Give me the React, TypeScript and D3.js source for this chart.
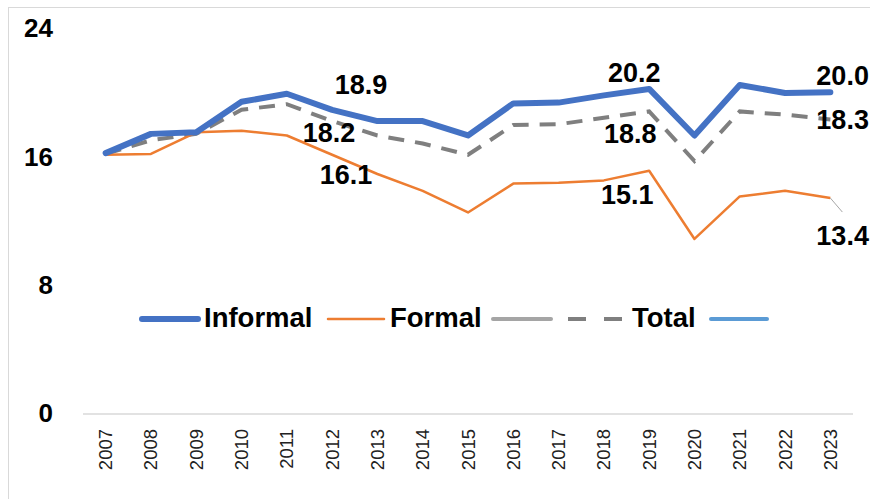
import React, { useEffect, useRef } from "react";
import * as d3 from "d3";

const years = ["2007", "2008", "2009", "2010", "2011", "2012", "2013", "2014", "2015",
  "2016", "2017", "2018", "2019", "2020", "2021", "2022", "2023"];
const informal = [16.2, 17.4, 17.5, 19.4, 19.9, 18.9, 18.2, 18.2, 17.3, 19.3, 19.35, 19.8, 20.2, 17.3, 20.45, 19.95, 20.0];
const formal = [16.1, 16.15, 17.5, 17.6, 17.3, 16.1, 14.9, 13.85, 12.5, 14.3, 14.35, 14.5, 15.1, 10.85, 13.5, 13.85, 13.4];
const total = [16.15, 17.0, 17.4, 18.9, 19.25, 18.2, 17.3, 16.8, 16.1, 17.95, 18.0, 18.4, 18.8, 15.7, 18.8, 18.6, 18.3];
const yTicks = [0, 8, 16, 24];
const labelYears = ["2012", "2019", "2023"];

const FONT = "'Liberation Sans', Arial, sans-serif";

export default function App() {
  const ref = useRef<SVGSVGElement>(null);

  useEffect(() => {
    const width = 870;
    const height = 499;
    const svg = d3.select(ref.current);
    svg.selectAll("*").remove();

    const x = d3.scaleBand().domain(years).range([83, 853]);
    const y = d3.scaleLinear().domain([0, 24]).range([413, 28]);
    const cx = (yr: string) => (x(yr) as number) + x.bandwidth() / 2;

    svg.append("rect").attr("width", width).attr("height", height).attr("fill", "#fff");
    svg.append("rect").attr("x", 8.5).attr("y", 7.5).attr("width", width).attr("height", height)
      .attr("fill", "none").attr("stroke", "#d9d9d9").attr("stroke-width", 1);

    // y tick labels
    svg.append("g").selectAll("text").data(yTicks).join("text")
      .attr("x", 53).attr("y", d => y(d)).attr("dy", "0.36em").attr("text-anchor", "end")
      .style("font-family", FONT).style("font-weight", "bold").style("font-size", "26px").attr("fill", "#000")
      .text(d => d);

    // x axis line + labels
    svg.append("line").attr("x1", 83).attr("x2", 853).attr("y1", y(0) + 1).attr("y2", y(0) + 1)
      .attr("stroke", "#d9d9d9").attr("stroke-width", 1.5);
    svg.append("g").selectAll("text").data(years).join("text")
      .attr("transform", d => `translate(${cx(d) + 6.5},429) rotate(-90)`)
      .attr("text-anchor", "end")
      .style("font-family", FONT).style("font-size", "18.5px").attr("fill", "#222")
      .text(d => d);

    const line = (vals: number[]) => d3.line<number>()
      .x((_, i) => cx(years[i]))
      .y(d => y(d))(vals);

    svg.append("path").attr("d", line(total)).attr("fill", "none").attr("stroke", "#7f7f7f")
      .attr("stroke-width", 4).attr("stroke-dasharray", "16 11");
    svg.append("path").attr("d", line(formal)).attr("fill", "none").attr("stroke", "#ed7d31")
      .attr("stroke-width", 2.5).attr("stroke-linejoin", "round");
    svg.append("path").attr("d", line(informal)).attr("fill", "none").attr("stroke", "#4472c4")
      .attr("stroke-width", 6).attr("stroke-linejoin", "round").attr("stroke-linecap", "round");

    // data labels
    const fmt = d3.format(".1f");
    const offsets: Record<string, { dx: number; dy: number; anchor: string }[]> = {
      "2012": [{ dx: 29, dy: -16, anchor: "middle" }, { dx: 14, dy: 29, anchor: "middle" }, { dx: -3, dy: 21, anchor: "middle" }],
      "2019": [{ dx: -15, dy: -7, anchor: "middle" }, { dx: -22, dy: 33, anchor: "middle" }, { dx: -19, dy: 32, anchor: "middle" }],
      "2023": [{ dx: -14, dy: -7, anchor: "start" }, { dx: -14, dy: 47, anchor: "start" }, { dx: -14, dy: 10, anchor: "start" }],
    };
    const series = [informal, formal, total];
    const labels: { x: number; y: number; t: string; anchor: string }[] = [];
    labelYears.forEach(yr => {
      const i = years.indexOf(yr);
      series.forEach((s, k) => {
        const o = offsets[yr][k];
        labels.push({ x: cx(yr) + o.dx, y: y(s[i]) + o.dy, t: fmt(s[i]), anchor: o.anchor });
      });
    });

    // leader line for last formal label
    const last = years[years.length - 1];
    svg.append("line").attr("x1", cx(last)).attr("y1", y(formal[formal.length - 1]))
      .attr("x2", cx(last) + 12).attr("y2", y(formal[formal.length - 1]) + 14)
      .attr("stroke", "#a6a6a6").attr("stroke-width", 1);

    svg.append("g").selectAll("text").data(labels).join("text")
      .attr("x", d => d.x).attr("y", d => d.y).attr("text-anchor", d => d.anchor)
      .style("font-family", FONT).style("font-weight", "bold").style("font-size", "27px").attr("fill", "#000")
      .text(d => d.t);

    // legend
    const ly = 319;
    const legend = svg.append("g");
    const seg = (x1: number, x2: number, color: string, w: number, dash?: string) => {
      const l = legend.append("line").attr("x1", x1).attr("x2", x2).attr("y1", ly).attr("y2", ly)
        .attr("stroke", color).attr("stroke-width", w).attr("stroke-linecap", dash ? "butt" : "round");
      if (dash) l.attr("stroke-dasharray", dash);
    };
    const txt = (x0: number, t: string) => legend.append("text").attr("x", x0).attr("y", ly + 8)
      .style("font-family", FONT).style("font-weight", "bold").style("font-size", "27.5px").attr("fill", "#000").text(t);

    seg(142, 198, "#4472c4", 6);
    txt(204, "Informal");
    seg(328, 384, "#ed7d31", 2.5);
    txt(390, "Formal");
    seg(493, 551, "#a5a5a5", 4);
    seg(568, 622, "#7f7f7f", 4, "18 18");
    txt(632, "Total");
    seg(711, 767, "#5b9bd5", 4);
  }, []);

  return (
    <svg ref={ref} width={870} height={499}
      style={{ position: "absolute", left: 0, top: 0, display: "block" }} />
  );
}
